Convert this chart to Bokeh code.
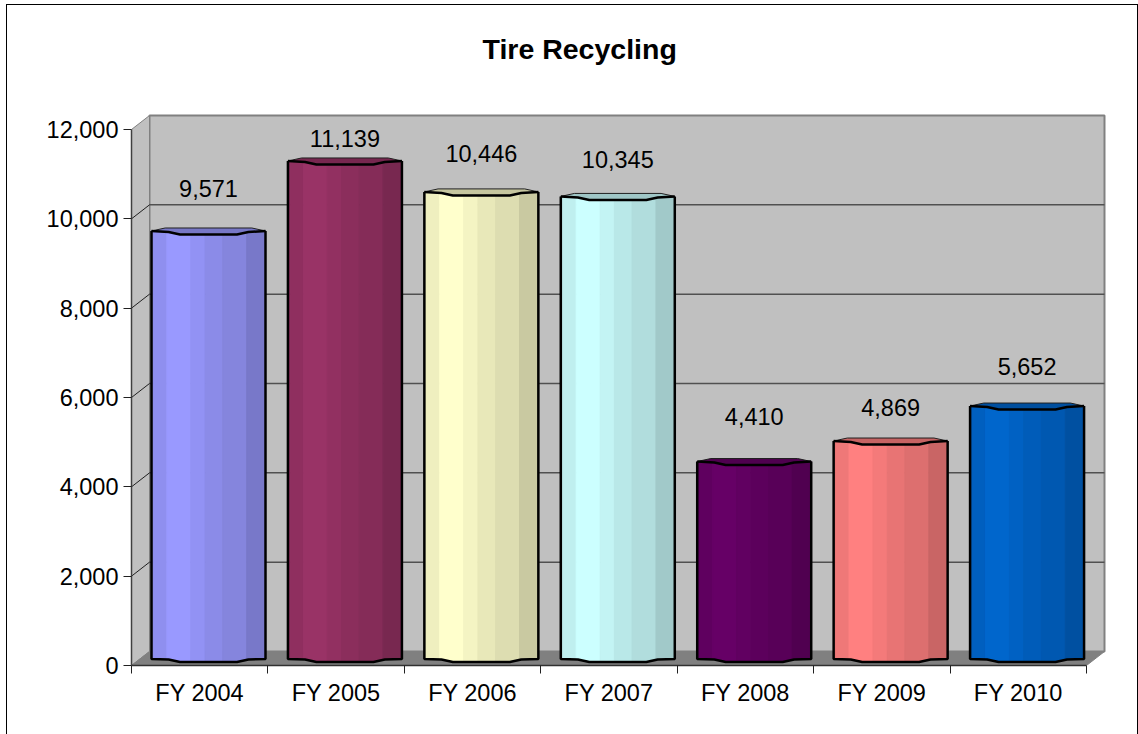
from bokeh.plotting import figure
from bokeh.models import (Range1d, LinearAxis, FixedTicker, NumeralTickFormatter,
                          ColumnDataSource, Title)
from bokeh.core.properties import value as V
from bokeh.embed import file_html
from bokeh.resources import INLINE

categories = ["FY 2004", "FY 2005", "FY 2006", "FY 2007", "FY 2008", "FY 2009", "FY 2010"]
tons = [9571, 11139, 10446, 10345, 4410, 4869, 5652]
colors = ["#9999FF", "#993366", "#FFFFCC", "#CCFFFF", "#660066", "#FF8080", "#0066CC"]
y_ticks = [0, 2000, 4000, 6000, 8000, 10000, 12000]

# --- layout (screen pixels) ---
W, H = 1138, 734
OX, OY = 6, 4                  # page position of the chart's border
AX_L, AX_B = 131, 665          # axis origin
SLOT = 955 / 7                 # category slot width
PX_Y = 536 / 12000             # pixels per value unit
DX, DY = 18, 14                # depth of the 3-D box
F_TOP, F_RIGHT = 113, 1106     # frame limits
BAR_W = 114                    # bar width
BAR_DX, BAR_DY = 20, 7         # offset of a bar from slot start / floor
label_gap = [42, 22, 38, 37, 45, 34, 40]   # label baseline gap above bar rim
FONT = "Liberation Sans"
TXT = "23.5px"

ux = 1 / SLOT
uy = 1 / PX_Y
p = figure(width=W - OX, height=H - OY, output_backend="svg", toolbar_location=None, title=None,
           x_range=Range1d(0, (F_RIGHT - AX_L) * ux),
           y_range=Range1d(0, (AX_B - F_TOP) * uy),
           x_axis_type=None, y_axis_type=None,
           min_border_left=AX_L - OX, min_border_right=W - F_RIGHT,
           min_border_top=F_TOP - OY, min_border_bottom=H - AX_B,
           background_fill_color=None, border_fill_color=None, outline_line_color=None,
           styles={"position": "absolute", "left": f"{OX}px", "top": f"{OY}px",
                   "box-shadow": "inset 1px 1px 0 0 black, inset -1px 0 0 0 black"})
p.grid.visible = False

# title, lifted away from the plot by an empty spacer line
p.add_layout(Title(text=" ", text_font=FONT, text_font_size="29px"), "above")
p.add_layout(Title(text="Tire Recycling", align="left", offset=351,
                   text_font=FONT, text_font_size="28.5px", text_font_style="bold", text_color="black"), "above")

wx0, wx1 = DX * ux, (DX + 955) * ux
wy0, wy1 = DY * uy, (DY + 536) * uy
# back wall, side wall, floor
p.patch([wx0, wx1, wx1, wx0], [wy0, wy0, wy1, wy1], fill_color="#C0C0C0", line_color="#808080", line_width=2)
p.patch([0, wx0, wx0, 0], [0, wy0, wy1, 12000], fill_color="#C0C0C0", line_color="#808080", line_width=1)
p.patch([0, wx0, wx1, wx1 - wx0], [0, wy0, wy0, 0], fill_color="#808080", line_color="#808080")
# grid lines
gv = y_ticks[1:-1]
p.segment([wx0] * len(gv), [v + wy0 for v in gv], [wx1] * len(gv), [v + wy0 for v in gv],
          line_color="#505050", line_width=1.5)
p.segment([0] * len(gv), gv, [wx0] * len(gv), [v + wy0 for v in gv], line_color="#202020", line_width=1)

# axes
ya = LinearAxis(ticker=FixedTicker(ticks=y_ticks), formatter=NumeralTickFormatter(format="0,0"),
                bounds=(0, 12000), major_tick_out=8, major_tick_in=0, minor_tick_out=0, minor_tick_in=0,
                major_label_standoff=5, major_label_text_font=FONT, major_label_text_font_size=TXT,
                major_label_text_color="black", axis_line_color="#404040", axis_line_width=1.5,
                major_tick_line_color="#202020")
p.add_layout(ya, "left")
centers = [i + 0.5 for i in range(len(categories))]
xa = LinearAxis(ticker=FixedTicker(ticks=centers, minor_ticks=list(range(len(categories) + 1))),
                major_label_overrides=dict(zip(centers, categories)),
                bounds=(0, len(categories)), major_tick_line_color=None, major_tick_out=8, major_tick_in=0,
                minor_tick_out=8, minor_tick_in=0, minor_tick_line_color="#202020",
                major_label_standoff=6, major_label_text_font=FONT, major_label_text_font_size=TXT,
                major_label_text_color="black", axis_line_color="#303030", axis_line_width=1.5)
p.add_layout(xa, "below")


def shade(hexcol, k):
    r, g, b = (int(hexcol[i:i + 2], 16) for i in (1, 3, 5))
    return "#%02x%02x%02x" % (int(r * k), int(g * k), int(b * k))


strip_edges = [0, .02, .135, .345, .47, .625, .835, 1]
strip_shade = [.88, .94, 1, .96, .91, .87, .79]
# rim / base profile: fraction across the bar -> pixels of bulge
prof_t = [0, .15, .25, .75, .85, 1]
prof_front = [0, 1, 3.5, 3.5, 1, 0]
prof_base = [.5, 1, 3.5, 3.5, 1, .5]


def interp(t, ts, vs):
    for a, b, u, w in zip(ts, ts[1:], vs, vs[1:]):
        if a <= t <= b:
            return u + (w - u) * (t - a) / (b - a)
    return vs[-1]


xs, ys, fc = [], [], []
top_xs, top_ys, top_fc = [], [], []
out_xs, out_ys = [], []
lab_x, lab_y, lab_txt, lab_off = [], [], [], []
for i, (v, c) in enumerate(zip(tons, colors)):
    x0 = i + BAR_DX * ux
    w = BAR_W * ux
    yt = v + BAR_DY * uy
    yb = BAR_DY * uy
    for k, (a, b) in enumerate(zip(strip_edges, strip_edges[1:])):
        ts = sorted({a, b} | {t for t in prof_t if a < t < b})
        xx = [x0 + t * w for t in ts]
        upper = [yt - interp(t, prof_t, prof_front) * uy for t in ts]
        lower = [yb - interp(t, prof_t, prof_base) * uy for t in ts]
        xs.append(xx + xx[::-1])
        ys.append(upper + lower[::-1])
        fc.append(shade(c, strip_shade[k]))
    # rim
    bt = [.0, .12, .88, 1.0]
    bk = [0, 3, 3, 0]
    top_xs.append([x0 + t * w for t in bt] + [x0 + t * w for t in prof_t[::-1]])
    top_ys.append([yt + d * uy for d in bk] + [yt - d * uy for d in prof_front[::-1]])
    top_fc.append(shade(c, .78))
    # outline: left side, base, right side, front rim
    out_xs.append([x0 + t * w for t in [0] + prof_t + [1]])
    out_ys.append([yt] + [yb - d * uy for d in prof_base] + [yt])
    out_xs.append([x0 + t * w for t in prof_t])
    out_ys.append([yt - d * uy for d in prof_front])
    lab_x.append(x0 + w / 2)
    lab_y.append(yt)
    lab_txt.append(f"{v:,}")
    lab_off.append(-label_gap[i])

p.patches(xs, ys, fill_color=fc, line_color=fc, line_width=1)
p.patches(top_xs, top_ys, fill_color=top_fc, line_color="#202020", line_width=1)
p.multi_line(out_xs, out_ys, line_color="black", line_width=2.5)

src = ColumnDataSource(dict(x=lab_x, y=lab_y, t=lab_txt, o=lab_off))
p.text("x", "y", text="t", y_offset="o", source=src, text_font=V(FONT), text_font_size=TXT,
       text_color="black", text_align="center", text_baseline="alphabetic")

open("out.html", "w").write(file_html(p, INLINE))
